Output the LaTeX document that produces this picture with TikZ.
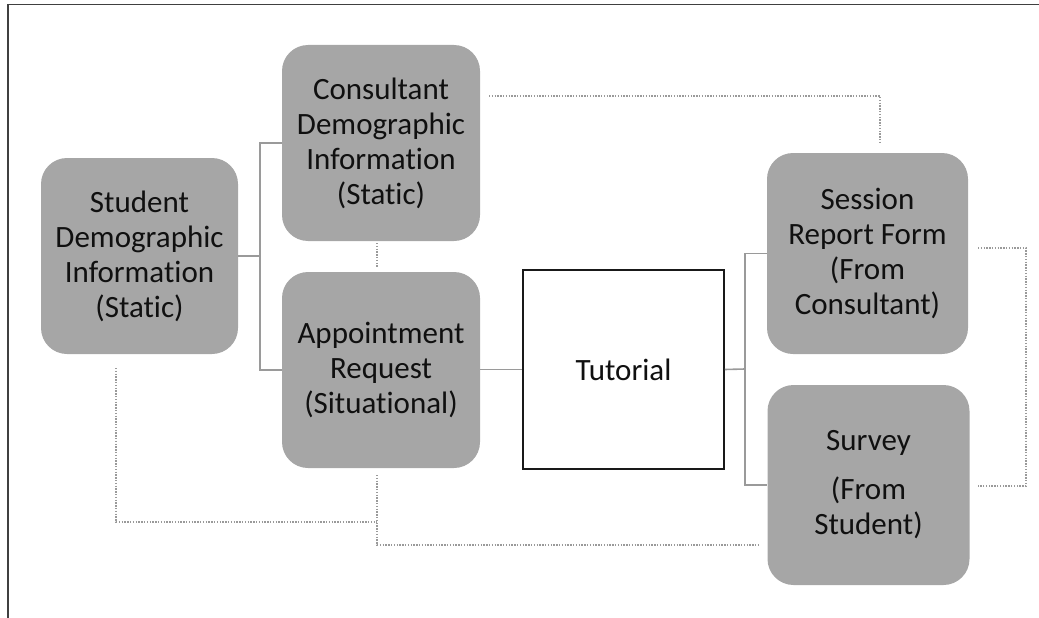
\documentclass[tikz,border=0pt]{standalone}
\usepackage{fontspec}
\setmainfont{Carlito}[Ligatures={NoCommon}]
\definecolor{boxgray}{HTML}{A6A6A6}
\definecolor{linegray}{HTML}{9A9A9A}
\definecolor{txt}{HTML}{101010}
\tikzset{
  blk/.style={draw=none, fill=boxgray, rounded corners=26pt, align=center, text=txt,
    font=\fontsize{31}{35}\selectfont, inner sep=0pt},
  tutbox/.style={draw=black!90, fill=white, line width=1.5pt, align=center, text=txt,
    font=\fontsize{31}{35}\selectfont, inner sep=0pt, minimum width=201pt, minimum height=199pt},
  solidc/.style={draw=linegray, line width=1.6pt},
  dotc/.style={draw=linegray, line width=1.3pt, dash pattern=on 1.4pt off 1.4pt},
}
\begin{document}
\begin{tikzpicture}[x=1pt, y=-1pt]
\useasboundingbox (0,0) rectangle (1039,618);
% frame
\draw[line width=1.5pt, black!75] (8,618) -- (8,4.5) -- (1039,4.5);
% nodes
\node[blk, minimum width=197pt, minimum height=196pt] (stu) at (139.5,256) {Student\\Demographic\\Information\\(Static)};
\node[blk, minimum width=198pt, minimum height=196pt] (con) at (381,143) {Consultant\\Demographic\\Information\\(Static)};
\node[blk, minimum width=198pt, minimum height=196pt] (app) at (381,370) {Appointment\\Request\\(Situational)};
\node[tutbox] (tut) at (623.5,369.5) {Tutorial};
\node[blk, minimum width=201pt, minimum height=201pt] (ses) at (867.5,253.5) {Session\\Report Form\\(From\\Consultant)};
\node[blk, minimum width=202pt, minimum height=200pt] (sur) at (868.5,485) {Survey\\[14pt](From\\Student)};
% solid connectors
\coordinate (j1) at (260,256);
\draw[solidc] (stu.east) -- (j1);
\draw[solidc] (con.west) -| (j1) |- (app.west);
\coordinate (j2) at (745,369);
\draw[solidc] (app.east |- tut.west) -- (tut.west);
\draw[solidc] (tut.east) -- (j2);
\draw[solidc] (ses.west) -| (j2) |- (sur.west);
% dotted connectors
\coordinate (d1a) at (489,96);
\coordinate (d1b) at (880,143);
\draw[dotc] (d1a) -| (d1b);
\coordinate (d2a) at (377,243);
\coordinate (d2b) at (377,268);
\draw[dotc] (d2a) -- (d2b);
\coordinate (d3a) at (978,248);
\coordinate (d3b) at (1026,486);
\coordinate (d3c) at (978,486);
\draw[dotc] (d3a) -| (d3b) -- (d3c);
\coordinate (d4a) at (116,368);
\coordinate (d4b) at (377,522);
\draw[dotc] (d4a) |- (d4b);
\coordinate (d5a) at (377,475);
\coordinate (d5b) at (760,545);
\draw[dotc] (d5a) |- (d5b);
\end{tikzpicture}
\end{document}
